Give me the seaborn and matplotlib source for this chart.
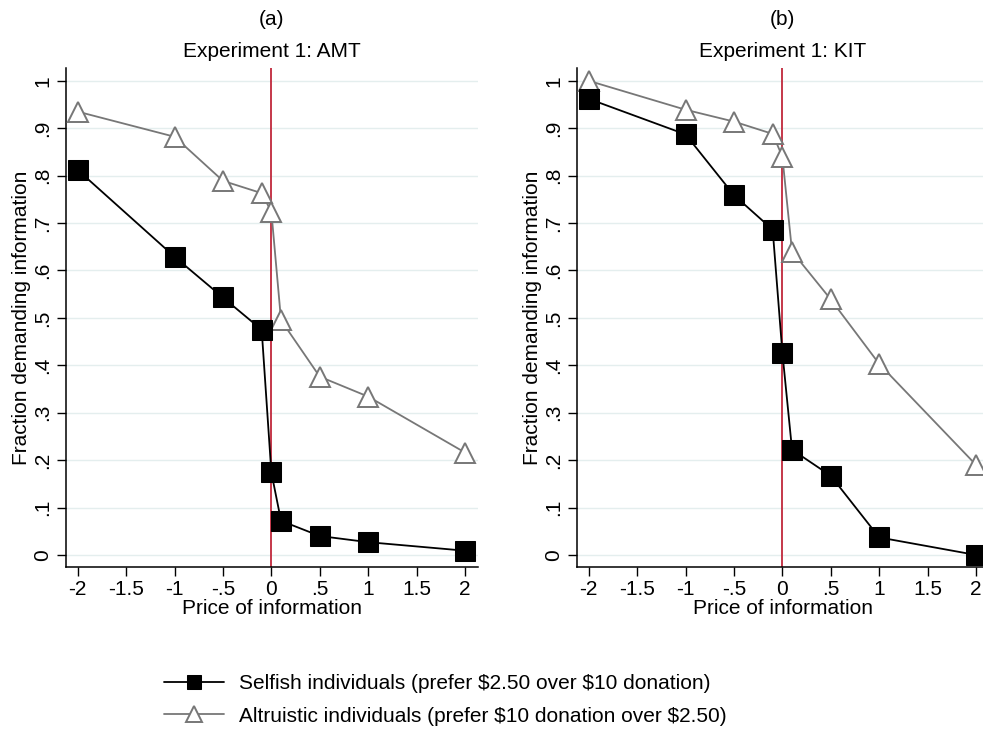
import matplotlib
matplotlib.use("Agg")
import matplotlib.pyplot as plt
import seaborn as sns
import pandas as pd
from matplotlib.ticker import FuncFormatter

price = [-2, -1, -0.5, -0.1, 0, 0.1, 0.5, 1, 2]

amt_selfish = [0.812, 0.629, 0.543, 0.475, 0.174, 0.072, 0.040, 0.027, 0.009]
amt_altruistic = [0.935, 0.882, 0.789, 0.763, 0.724, 0.495, 0.376, 0.334, 0.216]
kit_selfish = [0.962, 0.887, 0.759, 0.686, 0.427, 0.222, 0.167, 0.037, 0.0]
kit_altruistic = [1.0, 0.939, 0.914, 0.888, 0.840, 0.640, 0.539, 0.403, 0.190]

panel_labels = ["(a)", "(b)"]
panel_titles = ["Experiment 1: AMT", "Experiment 1: KIT"]
series_labels = [
    r"Selfish individuals (prefer \$2.50 over \$10 donation)",
    r"Altruistic individuals (prefer \$10 donation over \$2.50)",
]
x_ticks = [-2, -1.5, -1, -0.5, 0, 0.5, 1, 1.5, 2]
y_ticks = [0, 0.1, 0.2, 0.3, 0.4, 0.5, 0.6, 0.7, 0.8, 0.9, 1.0]

sns.set_style("white")
plt.rcParams["font.family"] = ["Liberation Sans", "DejaVu Sans"]
plt.rcParams.update({"text.color": "black", "axes.labelcolor": "black",
                     "xtick.color": "black", "ytick.color": "black"})
FS = 15


def stata_fmt(v, pos=None):
    s = f"{v:.1f}".rstrip("0").rstrip(".")
    if s.startswith("0."):
        s = s[1:]
    elif s.startswith("-0."):
        s = "-" + s[2:]
    return s if s else "0"


fig = plt.figure(figsize=(9.83, 7.32), dpi=100)
W, H = 983, 732
ax_a = fig.add_axes([65.7 / W, 1 - 567.3 / H, 412 / W, 499.3 / H])
ax_b = fig.add_axes([576.7 / W, 1 - 567.3 / H, 412 / W, 499.3 / H])

data = [(amt_selfish, amt_altruistic), (kit_selfish, kit_altruistic)]
for ax, (sel, alt), lab, title in zip([ax_a, ax_b], data, panel_labels, panel_titles):
    df = pd.DataFrame({"price": price, "selfish": sel, "altruistic": alt})
    for y in y_ticks:
        ax.axhline(y, color="#e4eeee", lw=1.0, zorder=0)
    ax.axvline(0, color="#c0283c", lw=1.3, zorder=1)
    sns.lineplot(data=df, x="price", y="altruistic", ax=ax, color="#777777",
                 lw=1.3, marker="^", ms=15, mfc="white", mec="#777777", mew=1.4,
                 label=series_labels[1], zorder=3)
    sns.lineplot(data=df, x="price", y="selfish", ax=ax, color="black",
                 lw=1.3, marker="s", ms=14, mfc="black", mec="black",
                 label=series_labels[0], zorder=4)
    ax.set_xlim(-2.124, 2.131)
    ax.set_ylim(-0.026, 1.027)
    ax.set_xticks(x_ticks)
    ax.set_yticks(y_ticks)
    ax.xaxis.set_major_formatter(FuncFormatter(stata_fmt))
    ax.yaxis.set_major_formatter(FuncFormatter(stata_fmt))
    ax.tick_params(axis="both", direction="out", length=6.5, width=1,
                   labelsize=FS, color="black", bottom=True, left=True, pad=3)
    for t in ax.get_yticklabels():
        t.set_rotation(90)
        t.set_va("center")
    ax.set_xlabel("Price of information", fontsize=FS, labelpad=0)
    ax.set_ylabel("Fraction demanding information", fontsize=FS, labelpad=2)
    ax.set_title(title, fontsize=FS, pad=8)
    ax.text(0.5, 1 + 48 / 499.3, lab, transform=ax.transAxes, ha="center",
            va="center", fontsize=FS)
    sns.despine(ax=ax)
    for sp in ["left", "bottom"]:
        ax.spines[sp].set_color("black")
        ax.spines[sp].set_linewidth(1.1)
    ax.get_legend().remove()

handles, labels = ax_a.get_legend_handles_labels()
handles, labels = handles[::-1], labels[::-1]
leg = fig.legend(handles, labels, loc="center", bbox_to_anchor=(445 / W, 1 - 700 / H),
                 frameon=False, fontsize=FS, handlelength=2.9, handletextpad=0.7,
                 labelspacing=0.65, markerscale=0.75)

fig.savefig("out.png", dpi=100)
